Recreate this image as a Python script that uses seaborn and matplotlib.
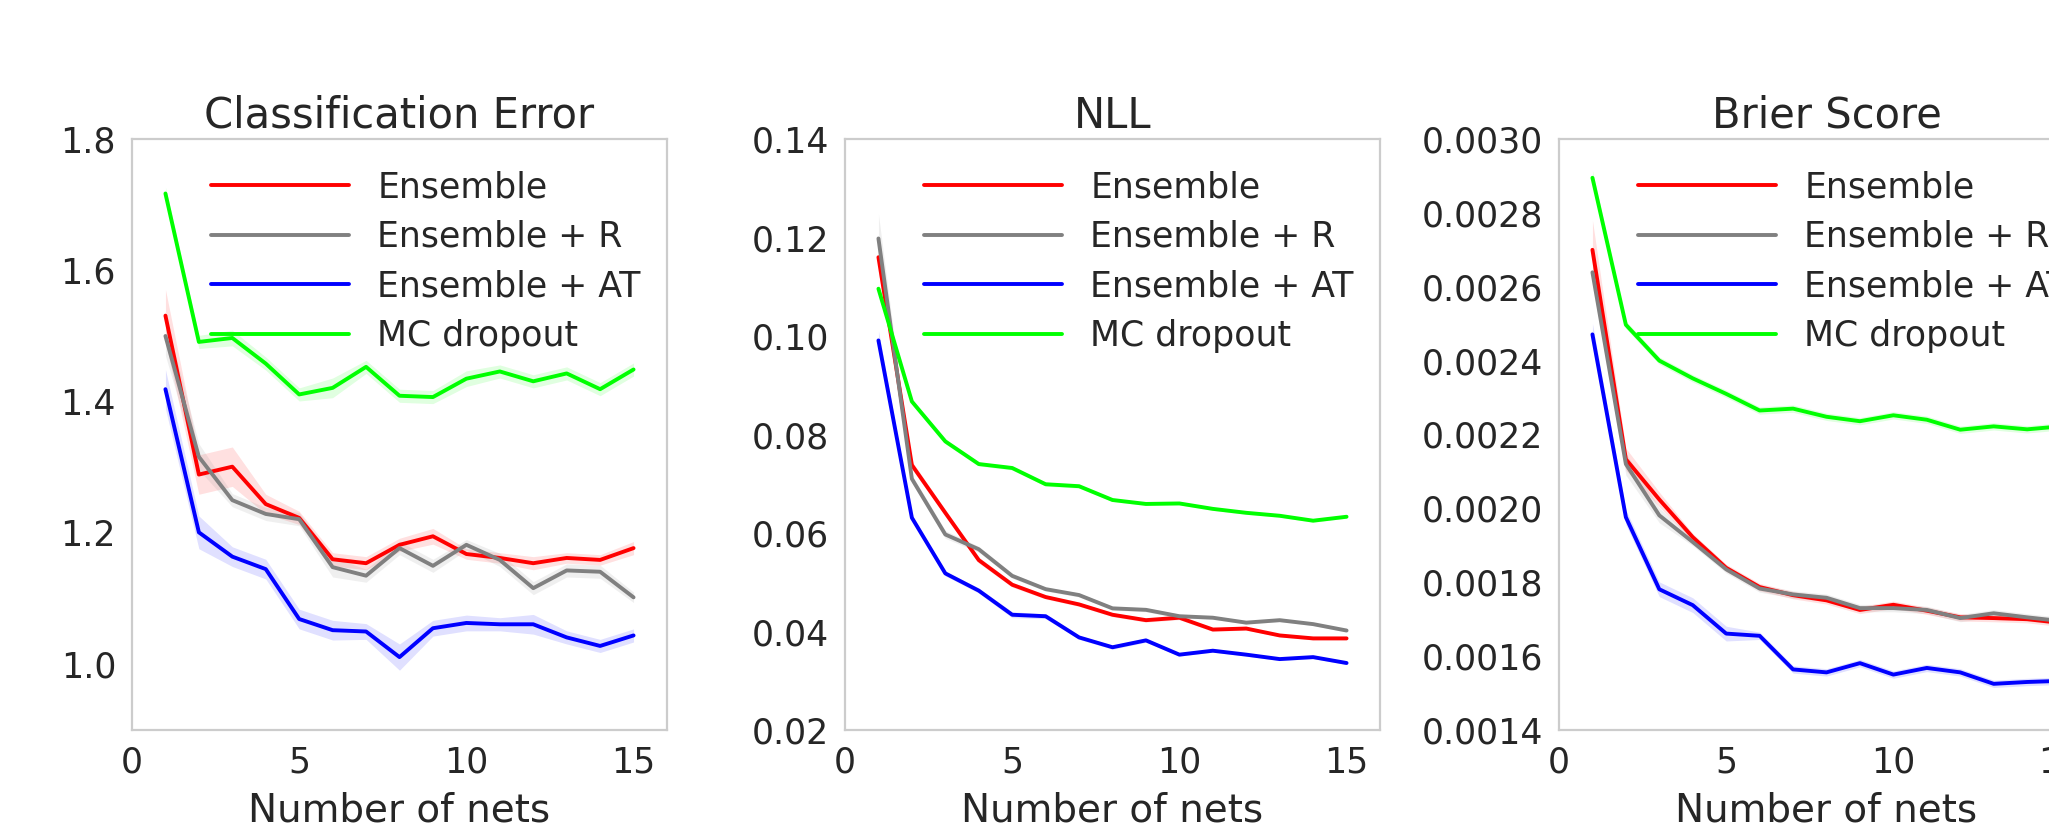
import numpy as np
import pandas as pd
import matplotlib
matplotlib.use("Agg")
import matplotlib.pyplot as plt
import seaborn as sns

# ---------------- data ----------------
nets = list(range(1, 16))
methods = ["Ensemble", "Ensemble + R", "Ensemble + AT", "MC dropout"]
colors = ["#ff0000", "#808080", "#0000ff", "#00ff00"]

# Classification Error
err_ens = [1.531, 1.289, 1.301, 1.244, 1.223, 1.160, 1.154, 1.182, 1.195, 1.168, 1.162, 1.154, 1.162, 1.159, 1.177]
err_r = [1.500, 1.316, 1.250, 1.229, 1.221, 1.148, 1.135, 1.177, 1.150, 1.182, 1.159, 1.116, 1.143, 1.141, 1.102]
err_at = [1.419, 1.201, 1.164, 1.145, 1.069, 1.052, 1.050, 1.011, 1.055, 1.063, 1.061, 1.061, 1.041, 1.028, 1.044]
err_mc = [1.717, 1.491, 1.497, 1.458, 1.411, 1.421, 1.453, 1.409, 1.407, 1.435, 1.446, 1.431, 1.443, 1.419, 1.449]
err_ens_ci = [0.040, 0.030, 0.030, 0.015, 0.010, 0.010, 0.010, 0.010, 0.012, 0.008, 0.008, 0.010, 0.008, 0.008, 0.010]
err_r_ci = [0.030, 0.020, 0.010, 0.010, 0.010, 0.015, 0.010, 0.010, 0.010, 0.008, 0.010, 0.010, 0.010, 0.010, 0.008]
err_at_ci = [0.030, 0.025, 0.015, 0.015, 0.015, 0.015, 0.012, 0.020, 0.012, 0.012, 0.010, 0.015, 0.010, 0.010, 0.010]
err_mc_ci = [0.010, 0.010, 0.012, 0.010, 0.010, 0.015, 0.010, 0.010, 0.010, 0.012, 0.010, 0.010, 0.010, 0.010, 0.010]

# NLL
nll_ens = [0.1160, 0.0738, 0.0641, 0.0545, 0.0495, 0.0470, 0.0455, 0.0434, 0.0423, 0.0428, 0.0404, 0.0406, 0.0392, 0.0386, 0.0386]
nll_r = [0.1198, 0.0710, 0.0597, 0.0567, 0.0513, 0.0486, 0.0474, 0.0447, 0.0444, 0.0431, 0.0428, 0.0418, 0.0423, 0.0415, 0.0402]
nll_at = [0.0991, 0.0631, 0.0518, 0.0483, 0.0434, 0.0431, 0.0388, 0.0368, 0.0382, 0.0353, 0.0361, 0.0353, 0.0344, 0.0348, 0.0336]
nll_mc = [0.1096, 0.0867, 0.0786, 0.0740, 0.0732, 0.0699, 0.0695, 0.0667, 0.0659, 0.0660, 0.0649, 0.0641, 0.0635, 0.0625, 0.0633]
nll_ens_ci = [0.0030, 0.0008, 0.0006, 0.0006, 0.0005, 0.0004, 0.0004, 0.0004, 0.0004, 0.0004, 0.0004, 0.0003, 0.0003, 0.0003, 0.0003]
nll_r_ci = [0.0050, 0.0008, 0.0008, 0.0006, 0.0005, 0.0004, 0.0004, 0.0004, 0.0004, 0.0004, 0.0003, 0.0003, 0.0003, 0.0003, 0.0003]
nll_at_ci = [0.0020, 0.0006, 0.0005, 0.0005, 0.0006, 0.0005, 0.0004, 0.0004, 0.0004, 0.0003, 0.0003, 0.0003, 0.0003, 0.0003, 0.0003]
nll_mc_ci = [0.0010, 0.0005, 0.0005, 0.0004, 0.0004, 0.0004, 0.0004, 0.0003, 0.0003, 0.0003, 0.0003, 0.0003, 0.0003, 0.0003, 0.0003]

# Brier Score
bs_ens = [0.002700, 0.002133, 0.002024, 0.001922, 0.001839, 0.001787, 0.001765, 0.001751, 0.001725, 0.001739, 0.001723, 0.001705, 0.001703, 0.001700, 0.001690]
bs_r = [0.002639, 0.002120, 0.001981, 0.001909, 0.001835, 0.001783, 0.001767, 0.001758, 0.001730, 0.001730, 0.001725, 0.001703, 0.001716, 0.001705, 0.001695]
bs_at = [0.002471, 0.001976, 0.001781, 0.001738, 0.001661, 0.001655, 0.001564, 0.001556, 0.001581, 0.001550, 0.001568, 0.001556, 0.001525, 0.001530, 0.001533]
bs_mc = [0.002895, 0.002497, 0.002400, 0.002352, 0.002310, 0.002265, 0.002270, 0.002248, 0.002236, 0.002252, 0.002240, 0.002213, 0.002222, 0.002214, 0.002222]
bs_ens_ci = [0.00008, 0.00003, 0.00002, 0.00001, 0.00001, 0.00001, 0.00001, 0.00001, 0.00001, 0.00001, 0.00001, 0.00001, 0.00001, 0.00001, 0.00001]
bs_r_ci = [0.00003, 0.00003, 0.00002, 0.00001, 0.00001, 0.00001, 0.00001, 0.00001, 0.00001, 0.00001, 0.00001, 0.00001, 0.00001, 0.00001, 0.00001]
bs_at_ci = [0.00003, 0.00002, 0.00002, 0.00002, 0.00002, 0.00001, 0.00001, 0.00001, 0.00001, 0.00001, 0.00001, 0.00001, 0.00001, 0.00001, 0.00001]
bs_mc_ci = [0.00002, 0.00001, 0.00001, 0.00001, 0.00001, 0.00001, 0.00001, 0.00001, 0.00001, 0.00001, 0.00001, 0.00001, 0.00001, 0.00001, 0.00001]

titles = ["Classification Error", "NLL", "Brier Score"]
xlabel = "Number of nets"
xticks = [0, 5, 10, 15]
yticks_err = [1.0, 1.2, 1.4, 1.6, 1.8]
yticks_nll = [0.02, 0.04, 0.06, 0.08, 0.10, 0.12, 0.14]
yticks_bs = [0.0014, 0.0016, 0.0018, 0.0020, 0.0022, 0.0024, 0.0026, 0.0028, 0.0030]
ylabels_err = ["1.0", "1.2", "1.4", "1.6", "1.8"]
ylabels_nll = ["0.02", "0.04", "0.06", "0.08", "0.10", "0.12", "0.14"]
ylabels_bs = ["0.0014", "0.0016", "0.0018", "0.0020", "0.0022", "0.0024", "0.0026", "0.0028", "0.0030"]

panels = [
    (titles[0], [err_ens, err_r, err_at, err_mc], [err_ens_ci, err_r_ci, err_at_ci, err_mc_ci],
     (0.9, 1.8), yticks_err, ylabels_err),
    (titles[1], [nll_ens, nll_r, nll_at, nll_mc], [nll_ens_ci, nll_r_ci, nll_at_ci, nll_mc_ci],
     (0.02, 0.14), yticks_nll, ylabels_nll),
    (titles[2], [bs_ens, bs_r, bs_at, bs_mc], [bs_ens_ci, bs_r_ci, bs_at_ci, bs_mc_ci],
     (0.0014, 0.0030), yticks_bs, ylabels_bs),
]

# ---------------- style ----------------
sns.set_style("whitegrid", {"axes.edgecolor": "#cccccc", "axes.grid": False})
plt.rcParams["font.family"] = ["DejaVu Sans"]
text_color = "#262626"

W, H = 2049, 839
fig = plt.figure(figsize=(W / 100, H / 100), dpi=100)
lefts = [132, 845, 1559]
ax_w, ax_h, ax_bottom = 535, 591, H - 730

for left, (title, series, cis, ylim, yt, ytl) in zip(lefts, panels):
    ax = fig.add_axes([left / W, ax_bottom / H, ax_w / W, ax_h / H])
    rows = []
    for m, vals in zip(methods, series):
        for n, v in zip(nets, vals):
            rows.append({"nets": n, "value": v, "method": m})
    df = pd.DataFrame(rows)
    for m, vals, ci, c in zip(methods, series, cis, colors):
        v = np.array(vals)
        e = np.array(ci)
        ax.fill_between(nets, v - e, v + e, color=c, alpha=0.12, linewidth=0)
    sns.lineplot(data=df, x="nets", y="value", hue="method", hue_order=methods,
                 palette=colors, linewidth=2.8, ax=ax, errorbar=None)
    ax.set_xlim(0, 16)
    ax.set_ylim(*ylim)
    ax.set_xticks(xticks)
    ax.set_xticklabels([str(t) for t in xticks])
    ax.set_yticks(yt)
    ax.set_yticklabels(ytl)
    ax.tick_params(axis="both", length=0, pad=11.5, labelsize=25, labelcolor=text_color)
    ax.set_xlabel(xlabel, fontsize=28, color=text_color, labelpad=8.5)
    ax.set_ylabel("")
    ax.set_title(title, fontsize=30, color=text_color, pad=8)
    for s in ax.spines.values():
        s.set_color("#cccccc")
        s.set_linewidth(1.6)
    leg = ax.legend(loc="upper right", bbox_to_anchor=(1.009, 1.0), frameon=False,
                    fontsize=25, handlelength=4.0, handletextpad=0.8,
                    labelspacing=0.45, borderaxespad=0.5)
    for t in leg.get_texts():
        t.set_color(text_color)

fig.savefig("out.png", dpi=100)
